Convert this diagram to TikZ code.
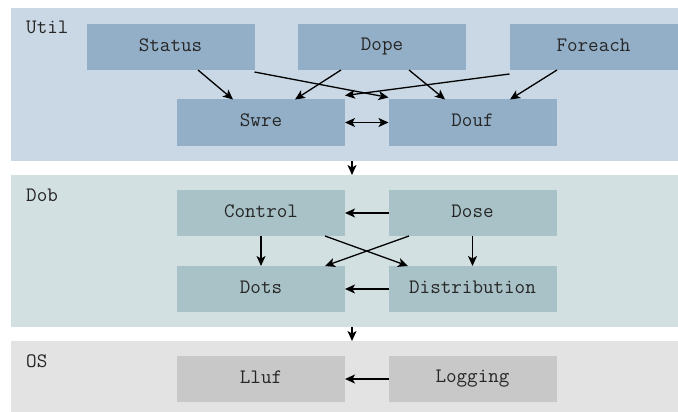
\documentclass[tikz,border=0pt]{standalone}
\usepackage{fontspec}
\usetikzlibrary{arrows.meta,calc}
\definecolor{utilband}{HTML}{C9D8E4}
\definecolor{utilnode}{HTML}{93AFC7}
\definecolor{dobband}{HTML}{D3E0E2}
\definecolor{dobnode}{HTML}{A8C2C7}
\definecolor{osband}{HTML}{E3E3E3}
\definecolor{osnode}{HTML}{C8C8C8}
\begin{document}
\begin{tikzpicture}[x=1pt,y=-1pt,
  every node/.style={font=\ttfamily\fontsize{20.5}{22}\selectfont, text=black!85},
  band/.style={draw=none, inner sep=0pt, outer sep=0pt, anchor=north west},
  box/.style={draw=none, minimum width=168pt, minimum height=46pt, inner sep=0pt, outer sep=0pt},
  lbl/.style={anchor=base west, inner sep=0pt},
  tip/.style={Stealth[length=10pt,width=9pt,inset=2.5pt]},
  arr/.style={line width=1.3pt, -{Stealth[length=10pt,width=9pt,inset=2.5pt]}},
  darr/.style={line width=1.3pt, {Stealth[length=10pt,width=9pt,inset=2.5pt]}-{Stealth[length=10pt,width=9pt,inset=2.5pt]}}
]
\useasboundingbox (0,0) rectangle (678,412);
% bands
\node[band, fill=utilband, minimum width=667pt, minimum height=153pt] (util) at (11,8) {};
\node[band, fill=dobband, minimum width=667pt, minimum height=152pt] (dob) at (11,175) {};
\node[band, fill=osband, minimum width=667pt, minimum height=71pt] (os) at (11,341) {};
\node[lbl] (utillbl) at (26,34) {Util};
\node[lbl] (doblbl) at (26,201) {Dob};
\node[lbl] (oslbl) at (26,367) {OS};
% util nodes
\node[box, fill=utilnode] (status) at (170.5,47) {\raisebox{4pt}{Status}};
\node[box, fill=utilnode] (dope) at (382,47) {\raisebox{4pt}{Dope}};
\node[box, fill=utilnode] (foreach) at (593.5,47) {\raisebox{4pt}{Foreach}};
\node[box, fill=utilnode] (swre) at (261,122.5) {\raisebox{4pt}{Swre}};
\node[box, fill=utilnode] (douf) at (472.5,122.5) {\raisebox{4pt}{Douf}};
% dob nodes
\node[box, fill=dobnode] (control) at (261,213) {\raisebox{4pt}{Control}};
\node[box, fill=dobnode] (dose) at (472.5,213) {\raisebox{4pt}{Dose}};
\node[box, fill=dobnode] (dots) at (261,289) {\raisebox{4pt}{Dots}};
\node[box, fill=dobnode] (distribution) at (472.5,289) {\raisebox{4pt}{Distribution}};
% os nodes
\node[box, fill=osnode] (lluf) at (261,379) {\raisebox{4pt}{Lluf}};
\node[box, fill=osnode] (logging) at (472.5,379) {\raisebox{4pt}{Logging}};
% util arrows
\draw[arr] ([xshift=27.5]status.south) -- ([xshift=-28]swre.north);
\draw[arr] ([yshift=-2]status.south east) -- ([yshift=2]douf.north west);
\draw[arr] ([xshift=-41]dope.south) -- ([xshift=34]swre.north);
\draw[arr] ([xshift=27]dope.south) -- ([xshift=-27.5]douf.north);
\draw[arr] ([yshift=-4]foreach.south west) -- ([yshift=4]swre.north east);
\draw[arr] ([xshift=-36.5]foreach.south) -- ([xshift=37.5]douf.north);
\draw[darr] (swre.east) -- (douf.west);
% band arrows
\draw[arr] ([xshift=7.5]util.south) -- ([xshift=7.5]dob.north);
\draw[arr] ([xshift=7.5]dob.south) -- ([xshift=7.5]os.north);
% dob arrows
\draw[arr] (dose.west) -- (control.east);
\draw[arr] (control.south) -- (dots.north);
\draw[arr] (dose.south) -- (distribution.north);
\draw[arr] ([xshift=64]control.south) -- ([xshift=-64.5]distribution.north);
\draw[arr] ([xshift=-63.5]dose.south) -- ([xshift=64]dots.north);
\draw[arr] (distribution.west) -- (dots.east);
% os arrows
\draw[arr] (logging.west) -- (lluf.east);
\end{tikzpicture}
\end{document}
